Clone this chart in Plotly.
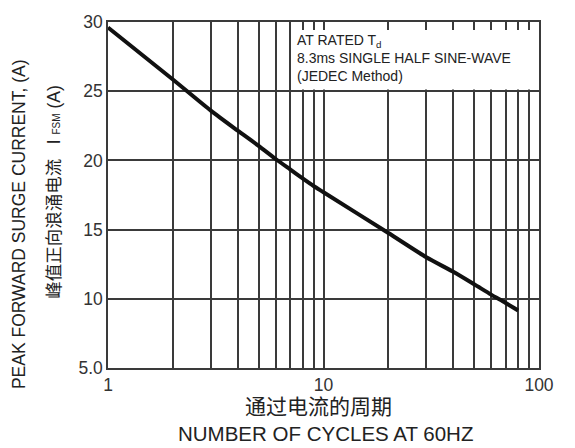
import plotly.graph_objects as go

cycles = [1, 2, 3, 4, 5, 6, 7, 8, 9, 10, 20, 30, 40, 50, 60, 70, 80]
current = [29.6, 25.85, 23.6, 22.15, 21.05, 20.1, 19.35, 18.7, 18.15, 17.7, 14.75, 13.0, 11.95, 11.05, 10.3, 9.7, 9.15]

x_major = [1, 10, 100]
x_major_labels = ["1", "10", "100"]
x_minor = [2, 3, 4, 5, 6, 7, 8, 9, 20, 30, 40, 50, 60, 70, 80, 90]
y_ticks = [5, 10, 15, 20, 25, 30]
y_labels = ["5.0", "10", "15", "20", "25", "30"]

FONT = "Liberation Sans, Arial, Noto Sans CJK SC, sans-serif"
GRID = "#3a3a3a"

fig = go.Figure()
fig.add_trace(go.Scatter(
    x=cycles, y=current, mode="lines",
    line=dict(color="#111111", width=4, shape="spline", smoothing=0.7),
    showlegend=False, hoverinfo="skip",
))

fig.update_layout(
    width=575, height=448,
    margin=dict(l=108, r=36, t=19, b=80),
    paper_bgcolor="white", plot_bgcolor="white",
    font=dict(family=FONT, color="#333333"),
    xaxis=dict(
        type="log", range=[0, 2],
        tickvals=x_major, ticktext=x_major_labels,
        showgrid=True, gridcolor=GRID, gridwidth=1.5,
        minor=dict(tickvals=x_minor, showgrid=True, gridcolor=GRID, gridwidth=1.5, ticks=""),
        showline=True, linecolor=GRID, linewidth=1.5, mirror=True,
        ticks="", tickfont=dict(size=17.5, color="#333333"),
        zeroline=False,
    ),
    yaxis=dict(
        range=[5, 30],
        tickvals=y_ticks, ticktext=y_labels,
        showgrid=True, gridcolor=GRID, gridwidth=1.5,
        showline=True, linecolor=GRID, linewidth=1.5, mirror=True,
        ticks="", tickfont=dict(size=17.5, color="#333333"),
        zeroline=False,
    ),
    shapes=[dict(
        type="rect", xref="paper", yref="paper",
        x0=0.435, x1=0.996, y0=0.805, y1=0.977,
        fillcolor="white", line=dict(width=0), layer="above",
    )],
    annotations=[
        dict(
            xref="paper", yref="paper", x=0.434, y=0.976,
            xanchor="left", yanchor="top", align="left", showarrow=False,
            text="AT RATED T<sub>d</sub><br>8.3ms SINGLE HALF SINE-WAVE<br>(JEDEC Method)",
            font=dict(size=14, color="#222222", family=FONT),
        ),
        dict(
            xref="paper", yref="paper", x=-0.205, y=0.415,
            xanchor="center", yanchor="middle", showarrow=False, textangle=-90,
            text="PEAK FORWARD SURGE CURRENT, (A)",
            font=dict(size=17.5, color="#222222", family=FONT),
        ),
        dict(
            xref="paper", yref="paper", x=-0.127, y=0.51,
            xanchor="center", yanchor="middle", showarrow=False, textangle=-90,
            text="峰值正向浪涌电流   I <span style='font-size:10px'>FSM</span> (A)",
            font=dict(size=17.5, color="#222222", family=FONT),
        ),
        dict(
            xref="paper", yref="paper", x=0.488, y=-0.112,
            xanchor="center", yanchor="middle", showarrow=False,
            text="通过电流的周期",
            font=dict(size=21, color="#222222", family=FONT),
        ),
        dict(
            xref="paper", yref="paper", x=0.505, y=-0.19,
            xanchor="center", yanchor="middle", showarrow=False,
            text="NUMBER OF CYCLES AT 60HZ",
            font=dict(size=20.5, color="#222222", family=FONT),
        ),
    ],
)

fig.write_html("out.html", config={"displayModeBar": False},
               post_script="document.body.style.margin='0';document.body.style.padding='0';")
